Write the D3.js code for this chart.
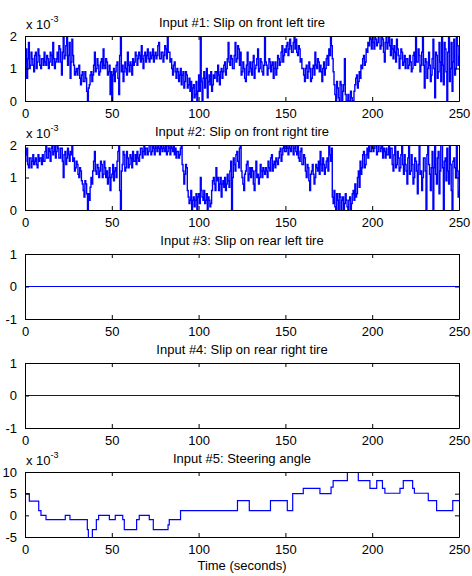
<!DOCTYPE html>
<html>
<head>
<meta charset="utf-8">
<title>Vehicle inputs</title>
<script src="https://cdn.jsdelivr.net/npm/d3@7"></script>
<style>
  html, body { margin: 0; padding: 0; background: #fff; }
  text { font-family: "Liberation Sans", Arial, sans-serif; fill: #000; }
</style>
</head>
<body>
<div id="chart"></div>
<script>
// slip values are in units of 1e-3, sampled every half second:
// the *Whole arrays hold t = 0,1,...,250 and the *Half arrays t = 0.5,1.5,...,249.5
const frontLeftWhole = [
  1.2, 0.7, 1.8, 1.1, 1.3, 0.9, 1.5, 1.2, 1.4, 1.0,
  1.3, 1.5, 1.1, 1.3, 1.2, 1.4, 1.8, 1.0, 1.3, 1.2,
  1.6, 0.8, 2.0, 1.4, 2.0, 1.4, 0.7, 1.9, 1.1, 0.9,
  0.8, 1.1, 0.5, 0.9, 0.6, 0.7, 0.0, 0.5, 0.9, 0.8,
  1.5, 1.0, 1.1, 0.9, 1.3, 1.6, 1.0, 1.2, 0.9, 0.2,
  0.0, 1.0, 0.9, 1.2, 0.2, 2.0, 1.1, 0.9, 1.0, 1.5,
  0.9, 1.1, 1.3, 1.2, 1.4, 1.3, 1.4, 1.7, 1.0, 1.5,
  1.4, 1.3, 1.5, 1.4, 1.2, 1.5, 1.4, 1.8, 1.3, 1.5,
  1.4, 1.6, 2.0, 1.5, 1.3, 0.8, 1.2, 0.7, 0.9, 0.8,
  0.5, 0.9, 0.6, 0.8, 0.5, 0.3, 0.0, 0.5, 0.2, 0.0,
  0.8, 2.0, 0.0, 0.9, 0.7, 0.1, 0.8, 0.9, 0.5, 0.7,
  0.9, 1.1, 0.5, 1.0, 0.9, 1.2, 1.0, 1.8, 1.1, 1.3,
  1.0, 1.8, 1.3, 1.6, 1.5, 0.9, 1.0, 0.6, 1.5, 0.9,
  1.0, 1.2, 0.7, 1.1, 1.6, 1.0, 1.2, 0.8, 2.0, 1.1,
  1.0, 1.2, 1.1, 0.7, 1.2, 1.0, 1.3, 1.2, 1.7, 1.4,
  1.5, 1.8, 1.6, 1.7, 1.5, 2.0, 1.9, 1.4, 1.6, 1.3,
  1.0, 0.6, 1.1, 0.9, 1.0, 0.7, 1.1, 1.5, 1.0, 1.2,
  1.1, 0.6, 1.2, 1.0, 1.4, 1.6, 2.0, 1.3, 0.5, 0.0,
  0.4, 0.0, 0.5, 0.3, 1.3, 0.0, 0.2, 0.0, 0.1, 0.0,
  0.5, 0.8, 0.6, 0.7, 1.0, 1.4, 1.2, 1.5, 1.7, 1.9,
  2.0, 1.6, 1.9, 1.8, 2.0, 1.7, 1.9, 1.2, 2.0, 1.8,
  1.7, 1.9, 1.3, 1.5, 1.9, 1.4, 1.3, 1.5, 1.2, 1.0,
  1.3, 1.1, 1.2, 1.0, 1.5, 2.0, 1.2, 1.4, 1.1, 2.0,
  0.4, 1.2, 1.0, 1.1, 0.8, 1.9, 0.1, 1.4, 0.9, 1.2,
  2.0, 0.5, 1.6, 0.0, 2.0, 1.0, 0.3, 1.9, 1.0, 1.7,
  1.4
];
const frontLeftHalf = [
  1.6, 1.3, 1.0, 1.5, 1.1, 1.4, 1.0, 1.6, 1.1, 1.3,
  1.1, 1.2, 1.4, 1.0, 1.5, 1.1, 1.3, 1.2, 1.5, 1.7,
  1.2, 1.5, 1.3, 1.7, 1.1, 1.8, 1.2, 1.4, 0.8, 1.0,
  1.0, 0.7, 0.8, 0.6, 0.9, 0.3, 0.4, 0.8, 0.6, 1.1,
  0.9, 1.3, 0.8, 1.2, 1.0, 1.1, 1.3, 0.8, 1.1, 0.9,
  0.8, 0.6, 1.1, 0.7, 1.4, 0.9, 0.6, 1.2, 0.8, 1.1,
  1.2, 0.8, 1.1, 1.5, 1.1, 1.5, 1.2, 1.3, 1.4, 1.2,
  1.6, 1.2, 1.3, 1.6, 1.4, 1.3, 1.7, 1.3, 1.5, 1.2,
  1.7, 1.3, 1.5, 1.2, 1.0, 1.1, 0.9, 1.0, 0.6, 1.0,
  0.8, 0.4, 0.9, 0.4, 0.7, 0.6, 0.4, 0.1, 0.6, 0.3,
  0.3, 0.6, 0.7, 0.4, 1.0, 0.6, 0.5, 0.3, 0.8, 0.9,
  0.6, 0.8, 0.9, 0.7, 1.1, 0.8, 1.3, 1.2, 1.4, 1.0,
  1.4, 1.2, 1.7, 1.1, 0.8, 1.2, 0.7, 1.1, 0.8, 1.2,
  0.8, 1.4, 1.0, 1.3, 0.9, 1.3, 0.9, 1.1, 1.2, 0.8,
  1.3, 0.9, 1.2, 1.0, 0.8, 1.4, 1.1, 1.5, 1.2, 1.6,
  1.7, 1.4, 1.9, 1.5, 1.8, 1.6, 1.5, 1.7, 1.2, 1.0,
  0.8, 1.0, 0.7, 1.2, 0.6, 1.0, 0.8, 1.1, 1.3, 0.9,
  0.9, 1.0, 0.8, 1.3, 1.1, 1.4, 1.7, 0.9, 0.2, 0.6,
  0.1, 0.6, 0.0, 0.5, 0.2, 0.0, 0.0, 0.3, 0.0, 0.3,
  0.7, 0.4, 0.9, 1.1, 1.3, 1.1, 1.6, 1.8, 2.0, 1.6,
  1.8, 2.0, 1.7, 2.0, 1.6, 2.0, 1.5, 1.8, 1.6, 2.0,
  1.4, 1.6, 1.7, 1.2, 1.6, 1.0, 1.6, 1.1, 1.4, 1.3,
  1.0, 1.4, 0.9, 1.4, 1.1, 1.2, 1.6, 0.9, 1.5, 1.1,
  1.3, 0.7, 1.5, 0.6, 1.3, 1.0, 1.5, 0.7, 1.8, 0.6,
  1.1, 1.8, 0.9, 1.5, 0.6, 1.8, 1.2, 0.8, 2.0, 1.1
];

const frontRightWhole = [
  1.5, 1.9, 1.3, 1.6, 1.5, 1.4, 1.6, 1.3, 1.5, 1.6,
  1.7, 1.5, 2.0, 1.6, 1.8, 1.9, 1.7, 2.0, 1.8, 1.9,
  1.6, 1.9, 1.0, 1.8, 1.6, 1.7, 1.8, 2.0, 1.6, 1.3,
  1.4, 1.0, 1.2, 0.8, 0.4, 0.8, 0.0, 0.3, 1.0, 1.2,
  1.8, 1.1, 1.3, 1.2, 1.4, 1.1, 1.3, 1.2, 1.0, 0.6,
  1.1, 0.9, 1.3, 1.5, 2.0, 0.0, 1.4, 1.7, 1.3, 1.6,
  1.4, 1.6, 1.8, 1.5, 1.4, 1.6, 1.7, 1.9, 1.8, 1.7,
  1.9, 1.8, 2.0, 1.8, 1.9, 2.0, 1.8, 1.9, 2.0, 1.8,
  1.9, 2.0, 1.8, 1.9, 2.0, 1.8, 1.7, 1.6, 1.8, 1.7,
  2.0, 1.2, 1.1, 1.3, 0.4, 0.3, 0.0, 0.4, 0.3, 0.0,
  0.5, 1.0, 0.4, 0.6, 0.3, 0.0, 0.3, 0.2, 0.9, 0.8,
  1.3, 1.0, 0.8, 0.4, 0.9, 1.0, 0.8, 0.9, 1.2, 0.0,
  1.6, 1.2, 1.8, 1.3, 2.0, 1.0, 0.6, 1.2, 1.5, 1.1,
  1.0, 1.2, 0.6, 1.5, 1.1, 1.0, 1.2, 1.3, 1.1, 1.2,
  1.5, 1.2, 1.7, 1.4, 1.3, 1.5, 1.6, 1.9, 1.7, 2.0,
  1.8, 1.9, 2.0, 1.8, 2.0, 1.9, 1.8, 2.0, 1.5, 1.9,
  1.4, 1.6, 1.0, 1.3, 0.6, 1.2, 1.1, 1.0, 1.3, 1.5,
  1.8, 1.2, 1.4, 1.3, 1.6, 2.0, 1.5, 0.4, 0.6, 0.0,
  0.3, 0.5, 0.0, 0.4, 0.2, 0.3, 0.0, 0.4, 0.2, 0.6,
  0.8, 0.5, 1.2, 1.5, 1.3, 1.8, 1.4, 1.9, 2.0, 1.8,
  2.0, 1.9, 2.0, 1.8, 2.0, 1.9, 1.6, 1.8, 1.9, 1.7,
  1.6, 1.9, 1.2, 2.0, 1.4, 1.6, 1.3, 2.0, 1.1, 1.4,
  0.8, 2.0, 1.2, 1.4, 1.0, 1.5, 0.5, 2.0, 1.2, 1.0,
  1.6, 0.0, 2.0, 1.1, 1.3, 0.0, 2.0, 0.8, 1.8, 1.2,
  2.0, 0.0, 1.6, 1.9, 0.8, 1.4, 0.0, 1.6, 1.0, 1.2,
  0.6
];
const frontRightHalf = [
  1.7, 1.4, 1.6, 1.3, 1.7, 1.5, 1.4, 1.7, 1.6, 1.4,
  1.5, 1.8, 1.6, 1.9, 1.5, 2.0, 1.8, 1.6, 2.0, 1.6,
  1.9, 1.5, 1.7, 1.4, 1.9, 1.5, 1.7, 1.5, 1.2, 1.5,
  1.1, 1.3, 0.9, 0.6, 0.9, 0.5, 0.5, 0.7, 0.8, 1.5,
  1.2, 1.4, 1.0, 1.5, 1.0, 1.5, 1.0, 0.8, 1.3, 1.0,
  1.4, 1.2, 1.0, 1.8, 0.6, 1.2, 1.8, 1.2, 1.8, 1.3,
  1.7, 1.3, 1.5, 1.7, 1.8, 1.5, 1.9, 1.6, 2.0, 1.9,
  1.7, 2.0, 1.7, 2.0, 1.7, 1.9, 2.0, 1.7, 1.9, 2.0,
  1.8, 1.7, 2.0, 1.7, 1.9, 2.0, 1.9, 1.8, 1.6, 1.9,
  1.4, 0.8, 1.4, 0.6, 0.2, 0.6, 0.3, 0.1, 0.5, 0.4,
  0.2, 0.6, 0.3, 0.2, 0.5, 0.4, 0.1, 0.6, 1.0, 0.6,
  0.9, 0.6, 1.0, 0.8, 0.7, 0.6, 1.1, 0.7, 1.5, 1.0,
  1.4, 1.7, 1.5, 1.9, 1.2, 0.8, 1.1, 1.4, 0.9, 1.3,
  1.3, 0.8, 1.2, 1.0, 0.8, 1.4, 1.0, 1.2, 1.3, 1.0,
  1.3, 1.6, 1.2, 1.5, 1.6, 1.4, 1.8, 1.5, 1.9, 1.8,
  2.0, 1.7, 1.9, 2.0, 1.7, 2.0, 1.7, 1.6, 1.8, 1.4,
  1.7, 1.2, 1.4, 0.9, 1.1, 1.4, 0.8, 1.4, 1.2, 1.1,
  1.4, 1.6, 1.1, 1.5, 1.2, 1.7, 1.9, 0.2, 0.1, 0.5,
  0.0, 0.4, 0.3, 0.0, 0.5, 0.1, 0.3, 0.0, 0.5, 0.3,
  0.4, 1.0, 0.7, 1.1, 1.7, 1.3, 1.7, 1.6, 1.8, 2.0,
  1.8, 2.0, 1.7, 2.0, 1.8, 2.0, 1.9, 1.6, 1.7, 2.0,
  1.9, 1.4, 1.7, 1.3, 1.8, 1.2, 1.7, 1.4, 1.7, 1.2,
  1.6, 1.1, 1.7, 0.8, 1.6, 1.2, 1.4, 1.1, 0.6, 1.6,
  1.2, 1.7, 1.4, 0.6, 1.8, 1.3, 1.1, 1.6, 0.5, 2.0,
  1.3, 1.5, 0.9, 1.2, 2.0, 0.6, 1.5, 1.3, 2.0, 0.4
];

// rear tires: flat zero over the whole run
const rearTimes = [0, 250];
const rearLeftSlip = [0, 0];
const rearRightSlip = [0, 0];

// steering angle (1e-3), piecewise constant: value holds from time[i] to time[i+1]
const steerTimes = [0, 2.5, 7.9, 9.2, 12.1, 23.2, 25.9, 35.9, 36.5, 38.8, 41.1, 42.4, 48.6, 52, 56.3,
  57.2, 64.3, 65.8, 71.6, 73.9, 82.4, 83.1, 89.6, 122.4, 129.2, 141.4, 151.1, 154.2, 160.3, 169.9,
  176.3, 177.5, 185.7, 192, 198.7, 202.6, 205.9, 207.3, 216, 217.9, 223.3, 224.3, 232.3, 237.1, 246.4, 250];
const steerValues = [5, 3.3, 1.1, 0, -1, 0, -1, -3.3, -5.5, -3.3, -1, 0, -1, 0, -1,
  -3.3, -1, 0, -1, -3.3, -2.2, -1, 1.1, 3.4, 1.1, 3.4, 1.1, 5, 6.2, 5,
  6.5, 8, 10.5, 8, 6.2, 8, 6.2, 5.1, 6.2, 8, 6.2, 5.1, 3.4, 1.1, 3.4, 3.4];

const titles = [
  "Input #1: Slip on front left tire",
  "Input #2: Slip on front right tire",
  "Input #3: Slip on rear left tire",
  "Input #4: Slip on rear right tire",
  "Input #5: Steering angle"
];
const xTicks = [0, 50, 100, 150, 200, 250];
const slipTicks = [0, 1, 2];
const rearTicks = [-1, 0, 1];
const steerTicks = [-5, 0, 5, 10];

const width = 472;
const height = 576;
const left = 25, right = 459, plotH = 65;
const tops = [36, 145, 254, 363, 472];

// interleave whole and half second samples into one [time, value] list
function interleave(whole, half) {
  const pts = [];
  whole.forEach((v, i) => {
    pts.push([i, v]);
    if (i < half.length) pts.push([i + 0.5, half[i]]);
  });
  return pts;
}

const svg = d3.select("#chart")
  .append("svg")
  .attr("width", width)
  .attr("height", height);

const x = d3.scaleLinear().domain([0, 250]).range([left, right]);

const panels = [
  { pts: interleave(frontLeftWhole, frontLeftHalf), dom: [0, 2], ticks: slipTicks, exp: true, step: true },
  { pts: interleave(frontRightWhole, frontRightHalf), dom: [0, 2], ticks: slipTicks, exp: true, step: true },
  { pts: rearTimes.map((t, i) => [t, rearLeftSlip[i]]), dom: [-1, 1], ticks: rearTicks, exp: false, step: false },
  { pts: rearTimes.map((t, i) => [t, rearRightSlip[i]]), dom: [-1, 1], ticks: rearTicks, exp: false, step: false },
  { pts: steerTimes.map((t, i) => [t, steerValues[i]]), dom: [-5, 10], ticks: steerTicks, exp: true, step: true }
];

panels.forEach((p, k) => {
  const top = tops[k];
  const y = d3.scaleLinear().domain(p.dom).range([top + plotH, top]);
  const g = svg.append("g");

  g.append("clipPath")
    .attr("id", "clip" + k)
    .append("rect")
    .attr("x", left).attr("y", top)
    .attr("width", right - left).attr("height", plotH);

  const line = d3.line()
    .x(d => x(d[0]))
    .y(d => y(d[1]))
    .curve(p.step ? d3.curveStepAfter : d3.curveLinear);

  g.append("path")
    .datum(p.pts)
    .attr("clip-path", `url(#clip${k})`)
    .attr("fill", "none")
    .attr("stroke", "#0000ff")
    .attr("stroke-width", k < 2 ? 1.4 : 1.2)
    .attr("d", line);

  // MATLAB style box with inward ticks on all four sides
  const fmt = d => String(d);
  const xb = d3.axisBottom(x).tickValues(xTicks).tickSizeInner(-4).tickSizeOuter(0).tickPadding(8).tickFormat(fmt);
  const xt = d3.axisTop(x).tickValues(xTicks).tickSizeInner(-4).tickSizeOuter(0).tickFormat("");
  const yl = d3.axisLeft(y).tickValues(p.ticks).tickSizeInner(-4).tickSizeOuter(0).tickPadding(8).tickFormat(fmt);
  const yr = d3.axisRight(y).tickValues(p.ticks).tickSizeInner(-4).tickSizeOuter(0).tickFormat("");

  g.append("g").attr("transform", `translate(0,${top + plotH})`).call(xb);
  g.append("g").attr("transform", `translate(0,${top})`).call(xt);
  g.append("g").attr("transform", `translate(${left},0)`).call(yl);
  g.append("g").attr("transform", `translate(${right},0)`).call(yr);

  g.selectAll(".domain").attr("stroke", "#000").attr("stroke-width", 1);
  g.selectAll(".tick line").attr("stroke", "#000");
  g.selectAll(".tick text")
    .style("font-family", "'Liberation Sans', Arial, sans-serif")
    .style("font-size", "13px")
    .attr("fill", "#000");

  g.append("text")
    .attr("x", (left + right) / 2)
    .attr("y", top - 9)
    .attr("text-anchor", "middle")
    .style("font-size", "13px")
    .text(titles[k]);

  if (p.exp) {
    const ex = g.append("text")
      .attr("x", left + 1)
      .attr("y", top - 7)
      .style("font-size", "13px");
    ex.append("tspan").text("x 10");
    ex.append("tspan").attr("dy", -7).style("font-size", "9px").text("-3");
  }
});

svg.append("text")
  .attr("x", (left + right) / 2)
  .attr("y", 570)
  .attr("text-anchor", "middle")
  .style("font-size", "13px")
  .text("Time (seconds)");
</script>
</body>
</html>
